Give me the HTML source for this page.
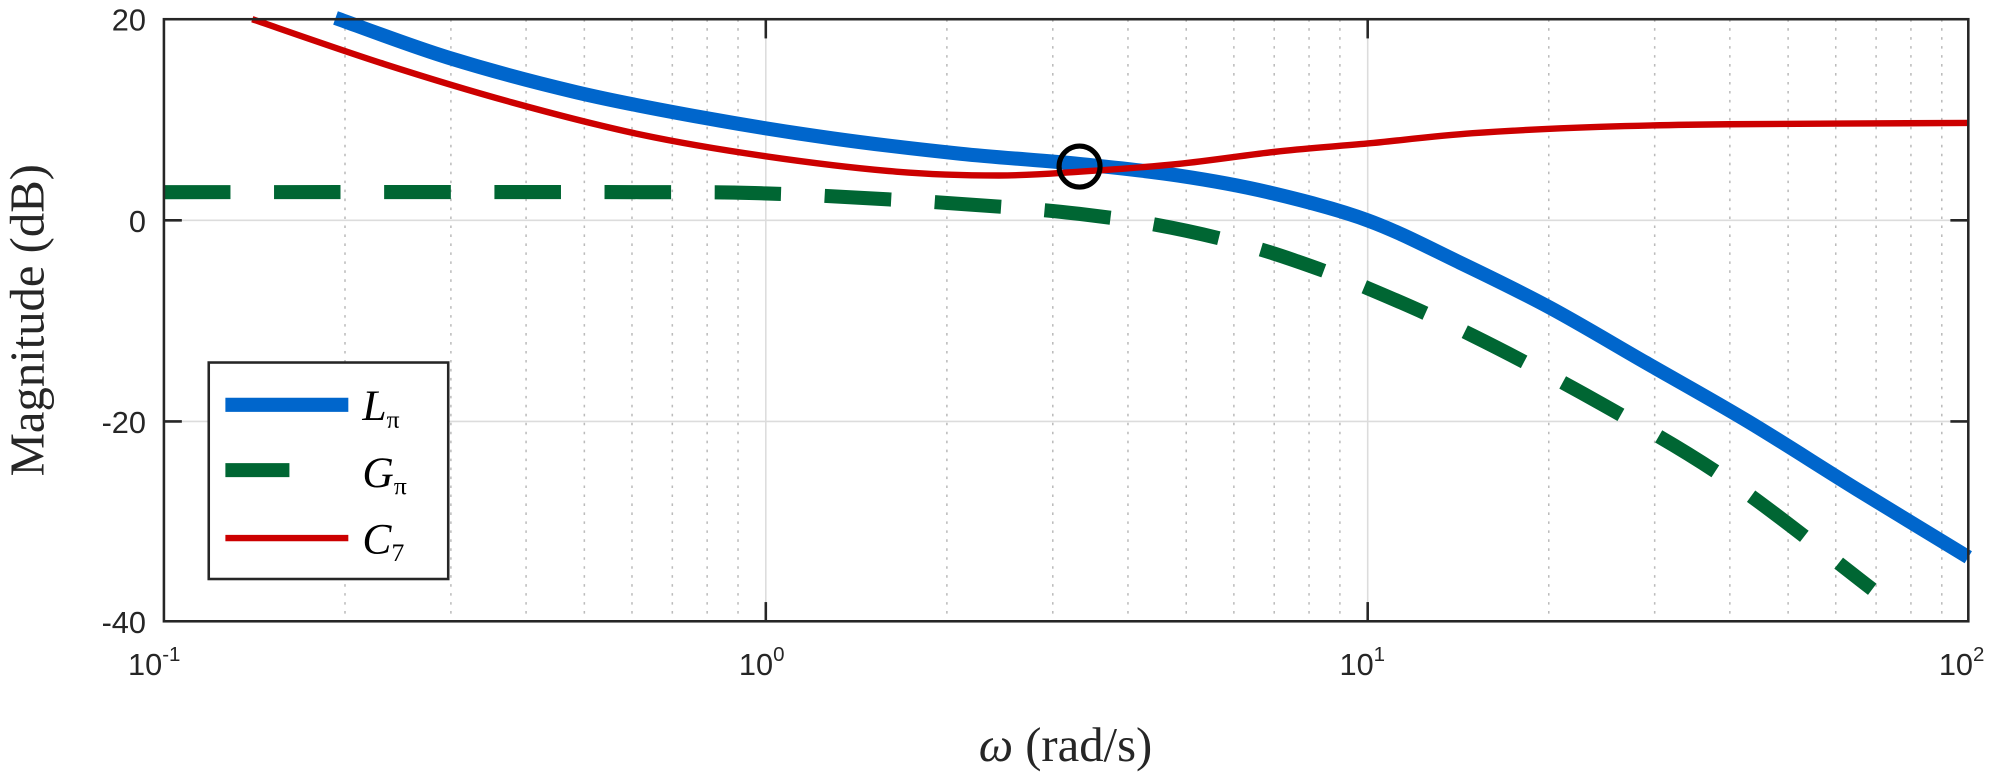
<!DOCTYPE html>
<html><head><style>body{margin:0;background:#fff}svg{display:block}</style></head>
<body>
<svg id="s" width="2008" height="775" viewBox="0 0 1568 605" preserveAspectRatio="none" xmlns="http://www.w3.org/2000/svg">
<g stroke="#dcdcdc" stroke-width="1.2">
<line x1="598" y1="15" x2="598" y2="485"/><line x1="1068" y1="15" x2="1068" y2="485"/>
<line x1="128" y1="172" x2="1537" y2="172"/><line x1="128" y1="329" x2="1537" y2="329"/>
</g>
<g stroke="#bbbbbb" stroke-width="1.2" stroke-dasharray="2 5">
<line x1="269.4" y1="15" x2="269.4" y2="485"/><line x1="352.1" y1="15" x2="352.1" y2="485"/><line x1="410.8" y1="15" x2="410.8" y2="485"/><line x1="456.3" y1="15" x2="456.3" y2="485"/><line x1="493.5" y1="15" x2="493.5" y2="485"/><line x1="525" y1="15" x2="525" y2="485"/><line x1="552.2" y1="15" x2="552.2" y2="485"/><line x1="576.3" y1="15" x2="576.3" y2="485"/>
<line x1="739.4" y1="15" x2="739.4" y2="485"/><line x1="822.1" y1="15" x2="822.1" y2="485"/><line x1="880.8" y1="15" x2="880.8" y2="485"/><line x1="926.3" y1="15" x2="926.3" y2="485"/><line x1="963.5" y1="15" x2="963.5" y2="485"/><line x1="995" y1="15" x2="995" y2="485"/><line x1="1022.2" y1="15" x2="1022.2" y2="485"/><line x1="1046.3" y1="15" x2="1046.3" y2="485"/>
<line x1="1209.4" y1="15" x2="1209.4" y2="485"/><line x1="1292.1" y1="15" x2="1292.1" y2="485"/><line x1="1350.8" y1="15" x2="1350.8" y2="485"/><line x1="1396.3" y1="15" x2="1396.3" y2="485"/><line x1="1433.5" y1="15" x2="1433.5" y2="485"/><line x1="1465" y1="15" x2="1465" y2="485"/><line x1="1492.2" y1="15" x2="1492.2" y2="485"/><line x1="1516.3" y1="15" x2="1516.3" y2="485"/>
</g>
<path id="g" fill="none" stroke="#006633" stroke-width="11" stroke-dasharray="52 34" d=""/>
<path id="b" fill="none" stroke="#0066cc" stroke-width="11" stroke-linejoin="round" d=""/>
<path id="r" fill="none" stroke="#cc0000" stroke-width="5" stroke-linejoin="round" d=""/>
<circle cx="843" cy="130" r="16" fill="none" stroke="#000" stroke-width="4"/>
<rect x="128" y="15" width="1409" height="470" fill="none" stroke="#262626" stroke-width="2"/>
<g stroke="#262626" stroke-width="2">
<line x1="598" y1="485" x2="598" y2="470"/><line x1="1068" y1="485" x2="1068" y2="470"/>
<line x1="598" y1="15" x2="598" y2="30"/><line x1="1068" y1="15" x2="1068" y2="30"/>
<line x1="128" y1="172" x2="142" y2="172"/><line x1="128" y1="329" x2="142" y2="329"/>
<line x1="1537" y1="172" x2="1523" y2="172"/><line x1="1537" y1="329" x2="1523" y2="329"/>
</g>
<g font-family="Liberation Sans, sans-serif" font-size="24" fill="#262626" text-anchor="end">
<text x="114" y="24">20</text><text x="114" y="181">0</text><text x="114" y="338">-20</text><text x="114" y="494">-40</text>
</g>
<g font-family="Liberation Sans, sans-serif" font-size="24" fill="#262626">
<text x="100" y="527">10<tspan font-size="16" dy="-11">-1</tspan></text>
<text x="577" y="527">10<tspan font-size="16" dy="-11">0</tspan></text>
<text x="1046" y="527">10<tspan font-size="16" dy="-11">1</tspan></text>
<text x="1514" y="527">10<tspan font-size="16" dy="-11">2</tspan></text>
</g>
<text transform="translate(34,250) rotate(-90)" text-anchor="middle" font-family="Liberation Serif, serif" font-size="38" fill="#262626">Magnitude (dB)</text>
<text x="832" y="594" text-anchor="middle" font-family="Liberation Serif, serif" font-size="38" fill="#262626"><tspan font-style="italic">ω</tspan> (rad/s)</text>
<rect x="163" y="283" width="187" height="169" fill="#fff" stroke="#262626" stroke-width="2"/>
<line x1="176" y1="316" x2="272" y2="316" stroke="#0066cc" stroke-width="11"/>
<line x1="176" y1="367" x2="226" y2="367" stroke="#006633" stroke-width="11"/>
<line x1="176" y1="420" x2="272" y2="420" stroke="#cc0000" stroke-width="5"/>
<g font-family="Liberation Serif, serif" font-size="34" font-style="italic" fill="#000">
<text x="283" y="328">L<tspan font-size="20" dy="6" font-style="normal">π</tspan></text>
<text x="283" y="380">G<tspan font-size="20" dy="6" font-style="normal">π</tspan></text>
<text x="283" y="432">C<tspan font-size="20" dy="6" font-style="normal">7</tspan></text>
</g>
</svg>
<script>
function cr(p){var d="M"+p[0][0]+","+p[0][1];for(var i=0;i<p.length-1;i++){var p0=p[i-1]||p[i],p1=p[i],p2=p[i+1],p3=p[i+2]||p2;
d+=" C"+(p1[0]+(p2[0]-p0[0])/6)+","+(p1[1]+(p2[1]-p0[1])/6)+" "+(p2[0]-(p3[0]-p1[0])/6)+","+(p2[1]-(p3[1]-p1[1])/6)+" "+p2[0]+","+p2[1];}return d;}
document.getElementById("b").setAttribute("d",cr([[262,14],[350,45],[450,72],[550,92],[650,108],[750,120],[843,128],[920,137],[990,150],[1068,172],[1140,205],[1210,240],[1285,283],[1365,329],[1450,382],[1537,435]]));
document.getElementById("r").setAttribute("d",cr([[197,15],[300,50],[400,80],[500,105],[598,122],[700,134],[780,137],[843,134],[920,128],[1000,118],[1068,112],[1150,104],[1250,99],[1350,97],[1537,96]]));
document.getElementById("g").setAttribute("d",cr([[128,150],[500,150],[598,151],[700,156],[790,162],[843,167],[900,175],[960,188],[1010,203],[1068,225],[1150,262],[1250,315],[1350,375],[1462,460]]));
</script>
</body></html>
